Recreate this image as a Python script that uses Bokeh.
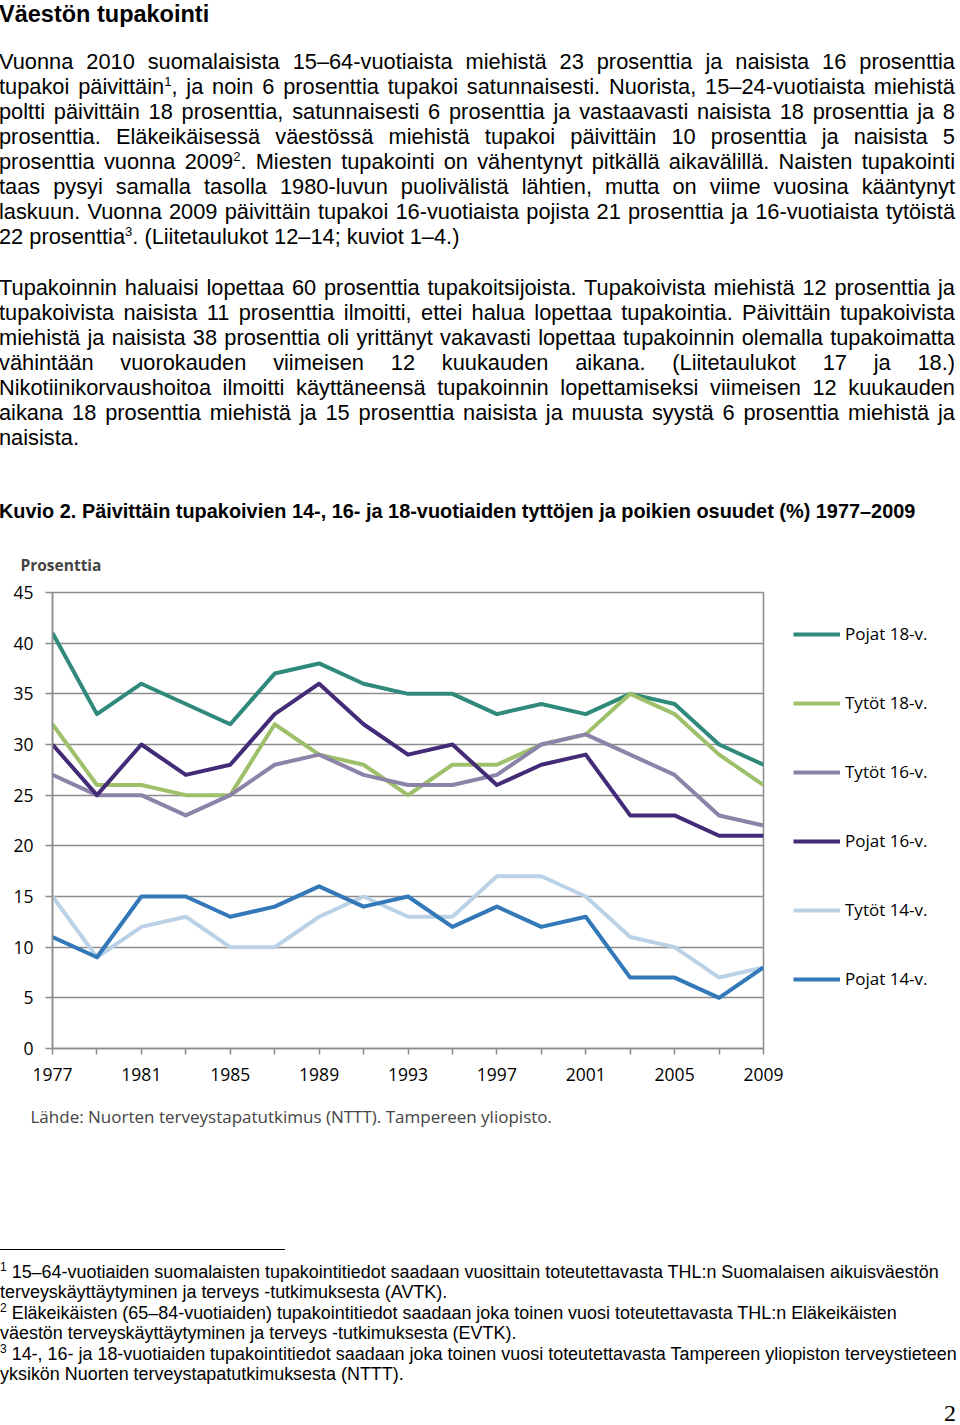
from bokeh.plotting import figure
from bokeh.models import Div, Legend, LegendItem, FixedTicker, Title, Range1d, Spacer
from bokeh.layouts import column, row
from bokeh.embed import file_html
from bokeh.resources import INLINE

# ---------------- data ----------------
years = [1977, 1979, 1981, 1983, 1985, 1987, 1989, 1991, 1993,
         1995, 1997, 1999, 2001, 2003, 2005, 2007, 2009]
pojat18 = [41, 33, 36, 34, 32, 37, 38, 36, 35, 35, 33, 34, 33, 35, 34, 30, 28]
tytot18 = [32, 26, 26, 25, 25, 32, 29, 28, 25, 28, 28, 30, 31, 35, 33, 29, 26]
tytot16 = [27, 25, 25, 23, 25, 28, 29, 27, 26, 26, 27, 30, 31, 29, 27, 23, 22]
pojat16 = [30, 25, 30, 27, 28, 33, 36, 32, 29, 30, 26, 28, 29, 23, 23, 21, 21]
tytot14 = [15, 9, 12, 13, 10, 10, 13, 15, 13, 13, 17, 17, 15, 11, 10, 7, 8]
pojat14 = [11, 9, 15, 15, 13, 14, 16, 14, 15, 12, 14, 12, 13, 7, 7, 5, 8]

series_names = ["Pojat 18-v.", "Tytöt 18-v.", "Tytöt 16-v.",
                "Pojat 16-v.", "Tytöt 14-v.", "Pojat 14-v."]
series_values = [pojat18, tytot18, tytot16, pojat16, tytot14, pojat14]
series_colors = ["#2F8A7C", "#9FC06A", "#8B83A8", "#432B78", "#BBD2E6", "#3378B8"]

x_label_years = [1977, 1981, 1985, 1989, 1993, 1997, 2001, 2005, 2009]
x_minor_years = [1979, 1983, 1987, 1991, 1995, 1999, 2003, 2007]
y_ticks = [0, 5, 10, 15, 20, 25, 30, 35, 40, 45]

page_title = "Väestön tupakointi"
para1 = [
    "Vuonna 2010 suomalaisista 15–64-vuotiaista miehistä 23 prosenttia ja naisista 16 prosenttia",
    "tupakoi päivittäin<sup>1</sup>, ja noin 6 prosenttia tupakoi satunnaisesti. Nuorista, 15–24-vuotiaista miehistä",
    "poltti päivittäin 18 prosenttia, satunnaisesti 6 prosenttia ja vastaavasti naisista 18 prosenttia ja 8",
    "prosenttia. Eläkeikäisessä väestössä miehistä tupakoi päivittäin 10 prosenttia ja naisista 5",
    "prosenttia vuonna 2009<sup>2</sup>. Miesten tupakointi on vähentynyt pitkällä aikavälillä. Naisten tupakointi",
    "taas pysyi samalla tasolla 1980-luvun puolivälistä lähtien, mutta on viime vuosina kääntynyt",
    "laskuun. Vuonna 2009 päivittäin tupakoi 16-vuotiaista pojista 21 prosenttia ja 16-vuotiaista tytöistä",
    "22 prosenttia<sup>3</sup>. (Liitetaulukot 12–14; kuviot 1–4.)",
]
para2 = [
    "Tupakoinnin haluaisi lopettaa 60 prosenttia tupakoitsijoista. Tupakoivista miehistä 12 prosenttia ja",
    "tupakoivista naisista 11 prosenttia ilmoitti, ettei halua lopettaa tupakointia. Päivittäin tupakoivista",
    "miehistä ja naisista 38 prosenttia oli yrittänyt vakavasti lopettaa tupakoinnin olemalla tupakoimatta",
    "vähintään vuorokauden viimeisen 12 kuukauden aikana. (Liitetaulukot 17 ja 18.)",
    "Nikotiinikorvaushoitoa ilmoitti käyttäneensä tupakoinnin lopettamiseksi viimeisen 12 kuukauden",
    "aikana 18 prosenttia miehistä ja 15 prosenttia naisista ja muusta syystä 6 prosenttia miehistä ja",
    "naisista.",
]
caption = "Kuvio 2. Päivittäin tupakoivien 14-, 16- ja 18-vuotiaiden tyttöjen ja poikien osuudet (%) 1977–2009"
y_axis_title = "Prosenttia"
source_text = "Lähde: Nuorten terveystapatutkimus (NTTT).  Tampereen yliopisto."
footnotes = [
    "<sup>1</sup> 15–64-vuotiaiden suomalaisten tupakointitiedot saadaan vuosittain toteutettavasta THL:n Suomalaisen aikuisväestön",
    "terveyskäyttäytyminen ja terveys -tutkimuksesta (AVTK).",
    "<sup>2</sup> Eläkeikäisten (65–84-vuotiaiden) tupakointitiedot saadaan joka toinen vuosi toteutettavasta THL:n Eläkeikäisten",
    "väestön terveyskäyttäytyminen ja terveys -tutkimuksesta (EVTK).",
    "<sup>3</sup> 14-, 16- ja 18-vuotiaiden tupakointitiedot saadaan joka toinen vuosi toteutettavasta Tampereen yliopiston terveystieteen",
    "yksikön Nuorten terveystapatutkimuksesta (NTTT).",
]
page_number = "2"

# ---------------- text blocks ----------------
FONT = "'Liberation Sans', Arial, Helvetica, sans-serif"
SUP = '<sup style="font-size:13px;line-height:0;vertical-align:8px;">'
TOP_H = 532
BOT_H = 265


def text_line(html, top, size=21.8, justify=True, bold=False, lh=25, left=2, width=956):
    html = html.replace("<sup>", SUP)
    al = "justify" if justify else "left"
    return (f'<div style="position:absolute;left:{left}px;top:{top}px;width:{width}px;'
            f'line-height:{lh}px;font-size:{size}px;text-align:{al};text-align-last:{al};'
            f'font-weight:{"bold" if bold else "normal"};color:#000;">{html}</div>')


parts = [text_line(page_title, 5, size=23.5, justify=False, bold=True, lh=24)]
for i, ln in enumerate(para1):
    parts.append(text_line(ln, 64 + 25 * i - 12.5, justify=(i < len(para1) - 1)))
for i, ln in enumerate(para2):
    parts.append(text_line(ln, 290 + 25 * i - 12.5, justify=(i < len(para2) - 1)))
parts.append(text_line(caption, 514 - 12.5, size=19.9, justify=False, bold=True))

top_html = (f'<div style="position:relative;width:960px;height:{TOP_H}px;font-family:{FONT};">'
            + "".join(parts) + "</div>")
top_div = Div(text=top_html, width=960, height=TOP_H)

SUPF = '<sup style="font-size:12px;line-height:0;vertical-align:7px;">'
fn_html = "<br>".join(f.replace("<sup>", SUPF) for f in footnotes)
bottom_html = (
    f'<div style="position:relative;width:960px;height:{BOT_H}px;font-family:{FONT};color:#000;">'
    '<div style="position:absolute;left:1px;top:98px;width:287px;height:0;border-top:1.3px solid #000;"></div>'
    f'<div style="position:absolute;left:3px;top:111px;width:956px;font-size:17.95px;line-height:20.4px;white-space:nowrap;">{fn_html}</div>'
    f'<div style="position:absolute;right:1px;top:251px;font-family:\'Liberation Serif\', serif;font-size:24px;line-height:22px;">{page_number}</div>'
    "</div>")
bottom_div = Div(text=bottom_html, width=960, height=BOT_H)

# ---------------- chart ----------------
GRID = "#8C8C8C"
p = figure(frame_width=711, frame_height=456, output_backend="svg", toolbar_location=None,
           x_range=Range1d(1977, 2009), y_range=Range1d(0, 45),
           min_border_left=52, min_border_right=0, min_border_top=52, min_border_bottom=92,
           background_fill_color="white", border_fill_color="white")

items = []
for name, vals, col in zip(series_names, series_values, series_colors):
    r = p.line(years, vals, line_width=4, line_color=col, line_join="round")
    items.append(LegendItem(label=name, renderers=[r]))

legend = Legend(items=items, location="top_left", orientation="vertical",
                margin=30, padding=0, spacing=46, glyph_width=47, glyph_height=20,
                label_height=20, label_standoff=5,
                label_text_font="Open Sans", label_text_font_size="17px",
                label_text_color="#000000",
                border_line_alpha=0, background_fill_alpha=0)
p.add_layout(legend, "right")

p.title.text = y_axis_title
p.title.text_font = "Open Sans"
p.title.text_font_size = "15.5px"
p.title.text_font_style = "bold"
p.title.align = "left"
p.title.offset = -32
p.title.standoff = 34

src = Title(text=source_text, align="left", offset=-22, text_font="Open Sans",
            text_font_size="17px", text_font_style="normal", standoff=38)
p.add_layout(src, "below")

p.xaxis.ticker = FixedTicker(ticks=x_label_years, minor_ticks=x_minor_years)
p.yaxis.ticker = FixedTicker(ticks=y_ticks)
for ax in (p.xaxis[0], p.yaxis[0]):
    ax.axis_line_color = GRID
    ax.axis_line_width = 1.5
    ax.major_tick_line_color = GRID
    ax.major_tick_line_width = 1.5
    ax.major_tick_in = 0
    ax.major_label_text_font = "Open Sans"
    ax.major_label_text_font_size = "17.5px"
    ax.major_label_text_color = "#000000"
p.xaxis.major_tick_out = 6
p.xaxis.minor_tick_out = 6
p.xaxis.minor_tick_in = 0
p.xaxis.minor_tick_line_color = GRID
p.xaxis.minor_tick_line_width = 1.5
p.xaxis.major_label_standoff = 13
p.yaxis.major_tick_out = 7
p.yaxis.minor_tick_line_color = None
p.yaxis.major_label_standoff = 12

p.xgrid.visible = False
p.ygrid.grid_line_color = GRID
p.ygrid.grid_line_width = 1.5
p.outline_line_color = GRID
p.outline_line_width = 1.5

chart_row = row(Spacer(width=8), p, spacing=0)
page = column(top_div, chart_row, bottom_div, spacing=0, margin=(-8, 0, 0, -8))

open("out.html", "w").write(file_html(page, INLINE))
